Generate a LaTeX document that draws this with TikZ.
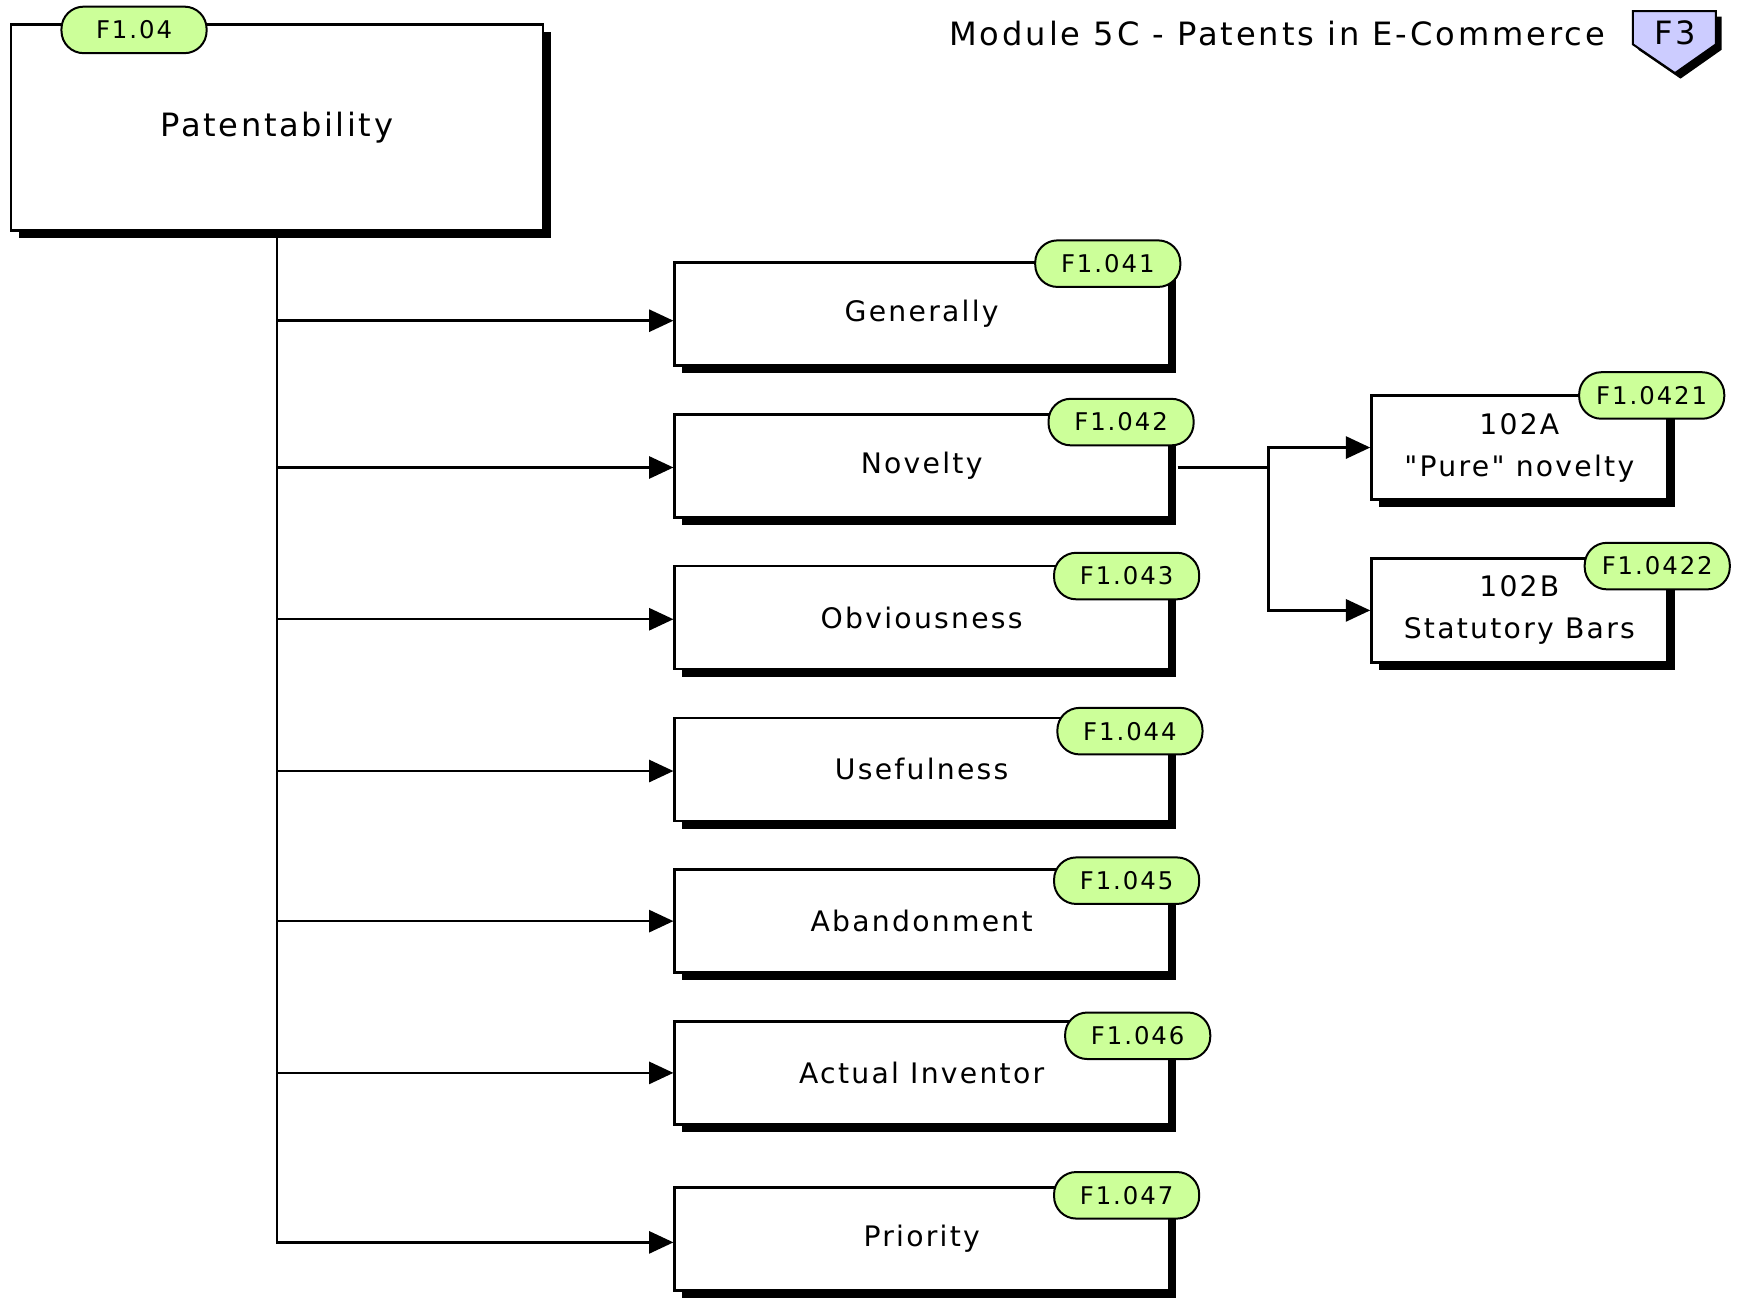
\documentclass[tikz,border=0pt]{standalone}
\usepackage{fontspec}
\setmainfont{DejaVu Sans}[LetterSpace=8]
\newfontfamily\plainquote{DejaVu Sans}[LetterSpace=8]
\usetikzlibrary{arrows.meta,shadows}
\definecolor{badgegreen}{HTML}{CCFF99}
\definecolor{lav}{HTML}{CCCCFF}
\begin{document}
\begin{tikzpicture}[x=1pt,y=-1pt,
  shadowed/.style={draw=black, line width=2.2pt, fill=white, inner sep=0pt,
    general shadow={fill=black, shadow xshift=7pt, shadow yshift=-7pt}},
  mainbox/.style={shadowed, minimum width=480pt, minimum height=186pt, font=\fontsize{29}{34}\selectfont},
  childbox/.style={shadowed, minimum width=446pt, minimum height=93pt, font=\fontsize{25.5}{30}\selectfont},
  rbox/.style={shadowed, minimum width=267pt, minimum height=94pt, align=center, font=\fontsize{25.5}{38}\selectfont},
  badge/.style={draw=black, line width=1.8pt, fill=badgegreen, rounded corners=20pt, minimum width=131pt, minimum height=42pt, inner sep=0pt, font=\fontsize{22}{24}\selectfont},
  conn/.style={draw=black, line width=2.2pt},
  arr/.style={conn, -{Triangle[length=22pt,width=20pt]}}
]
\useasboundingbox (0,0) rectangle (1568,1172);

% title and F3 marker
\node[anchor=east, inner sep=0pt, font=\fontsize{29}{32}\selectfont\addfontfeature{LetterSpace=9}] (title) at (1449,30) {Module 5C - Patents in E-Commerce};
\fill[black] (1479,15) -- (1554,15) -- (1554,45) -- (1517,71) -- (1479,45) -- cycle;
\draw[fill=lav, line width=1.8pt] (1474,10) -- (1549,10) -- (1549,40) -- (1512,66) -- (1474,40) -- cycle;
\node[inner sep=0pt, font=\fontsize{29}{32}\selectfont] (f3) at (1512,30) {F3};

% main box
\node[mainbox] (pat) at (250,115) {Patentability};

% child boxes
\node[childbox] (gen) at (832,283.5) {Generally};
\node[childbox] (nov) at (832,420.5) {Novelty};
\node[childbox] (obv) at (832,557.5) {Obviousness};
\node[childbox] (usef) at (832,694.5) {Usefulness};
\node[childbox] (aban) at (832,831.5) {Abandonment};
\node[childbox] (act) at (832,968.5) {Actual Inventor};
\node[childbox] (pri) at (832,1118.5) {Priority};

% right boxes
\node[rbox] (pa) at (1371.5,404) {102A\\{\plainquote "Pure" novelty}};
\node[rbox] (sb) at (1371.5,551) {102B\\Statutory Bars};

% connectors
\draw[arr] (pat.south) |- ([yshift=-3pt]pri.west);
\draw[arr] (pat.south |- gen.west) ++(0,6) -- ([yshift=-6pt]gen.west);
\draw[arr] (pat.south |- nov.west) ++(0,1.5) -- ([yshift=-1.5pt]nov.west);
\draw[arr] (pat.south |- obv.west) ++(0,1.5) -- ([yshift=-1.5pt]obv.west);
\draw[arr] (pat.south |- usef.west) ++(0,1.5) -- ([yshift=-1.5pt]usef.west);
\draw[arr] (pat.south |- aban.west) -- (aban.west);
\draw[arr] (pat.south |- act.west) -- (act.west);

\coordinate (split) at (1145,422);
\draw[conn] ([xshift=7pt,yshift=-1.5pt]nov.east) -- (split);
\draw[arr] (split) |- (pa.west);
\draw[arr] (split) |- (sb.west);

% badges
\node[badge] (b0) at (121,27) {F1.04};
\node[badge] (b1) at (1000,238) {F1.041};
\node[badge] (b2) at (1012,381) {F1.042};
\node[badge] (b3) at (1017,520) {F1.043};
\node[badge] (b4) at (1020,660) {F1.044};
\node[badge] (b5) at (1017,795) {F1.045};
\node[badge] (b6) at (1027,935) {F1.046};
\node[badge] (b7) at (1017,1079) {F1.047};
\node[badge] (b8) at (1491,357) {F1.0421};
\node[badge] (b9) at (1496,511) {F1.0422};
\end{tikzpicture}
\end{document}
